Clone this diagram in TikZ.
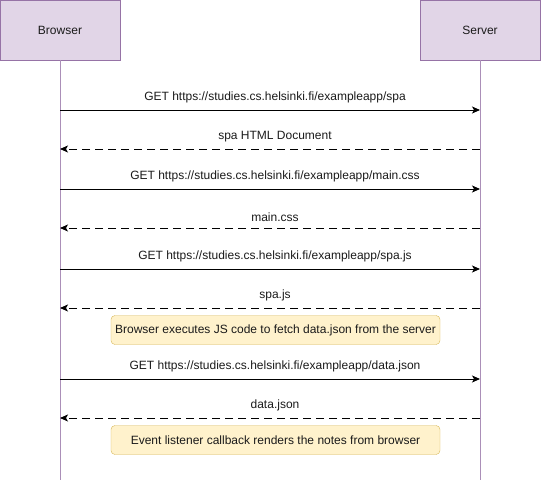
\documentclass[tikz,border=0pt]{standalone}
\usepackage{fontspec}
\setmainfont{Liberation Sans}
\usetikzlibrary{arrows.meta,positioning}
\definecolor{actorfill}{HTML}{E1D5E7}
\definecolor{actorline}{HTML}{9673A6}
\definecolor{notefill}{HTML}{FFF2CC}
\definecolor{noteline}{HTML}{D6B656}
\definecolor{textgray}{HTML}{1A1A1A}

\begin{document}
\begin{tikzpicture}[
      x=1pt, y=-1pt,
      font=\fontsize{12}{14}\selectfont, text=textgray,
      actor/.style={draw=actorline, fill=actorfill, minimum width=120pt, minimum height=60pt, inner sep=0pt},
      life/.style={draw=actorline!80, line width=0.8pt},
      note/.style={draw=noteline, fill=notefill, rounded corners=4pt, minimum width=329pt, minimum height=29pt, inner sep=0pt},
      req/.style={-{Stealth[length=8pt,width=7pt,inset=2pt]}, line width=0.9pt},
      resp/.style={req, dash pattern=on 8pt off 5pt},
      msg/.style={above=3pt, midway, xshift=5pt}
    ]
    \useasboundingbox (0,0) rectangle (541,482);
    % participants
    \node[actor] (browser) at (60,30) {Browser};
    \node[actor] (server) at (480,30) {Server};
    \coordinate (bend) at (60,480);
    \coordinate (send) at (480,480);
    \draw[life] (browser.south) -- (bend);
    \draw[life] (server.south) -- (send);
    % message rows on both lifelines
    \foreach \y/\n in {110/1,149/2,189/3,228/4,269/5,308/6,379/7,418/8} {
      \coordinate (b\n) at (60,\y);
      \coordinate (s\n) at (480,\y);
    }
    \draw[req] (b1) -- node[msg] {GET https://studies.cs.helsinki.fi/exampleapp/spa} (s1);
    \draw[resp] (s2) -- node[msg] {spa HTML Document} (b2);
    \draw[req] (b3) -- node[msg] {GET https://studies.cs.helsinki.fi/exampleapp/main.css} (s3);
    \draw[resp] (s4) -- node[msg] {main.css} (b4);
    \draw[req] (b5) -- node[msg] {GET https://studies.cs.helsinki.fi/exampleapp/spa.js} (s5);
    \draw[resp] (s6) -- node[msg] {spa.js} (b6);
    \node[note] (fetch) at (275.5,330) {Browser executes JS code to fetch data.json from the server};
    \draw[req] (b7) -- node[msg] {GET https://studies.cs.helsinki.fi/exampleapp/data.json} (s7);
    \draw[resp] (s8) -- node[msg] {data.json} (b8);
    \node[note] (render) at (275.5,440) {Event listener callback renders the notes from browser};
  \end{tikzpicture}
\end{document}
